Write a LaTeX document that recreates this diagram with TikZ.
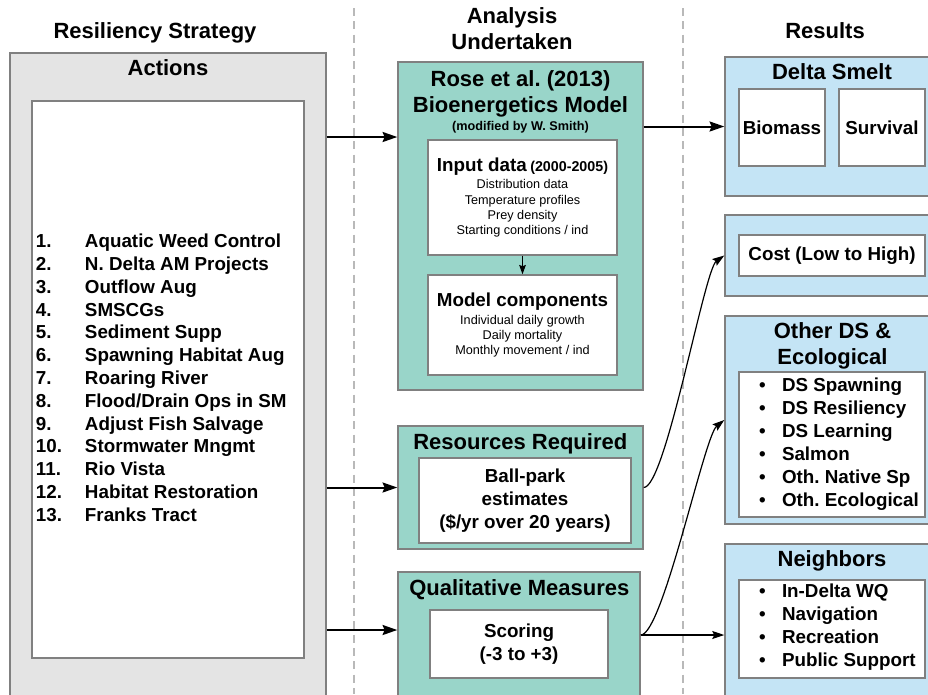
\documentclass[tikz,border=0pt]{standalone}
\usepackage{fontspec}
\setmainfont{Liberation Sans}
\frenchspacing
\usetikzlibrary{fit,arrows.meta}

\definecolor{actgray}{RGB}{228,228,228}
\definecolor{anteal}{RGB}{153,213,201}
\definecolor{resblue}{RGB}{196,228,245}
\definecolor{sepgray}{RGB}{185,185,185}

\tikzset{
  box/.style={draw=black!50,line width=1.1pt,inner sep=0pt},
  hdr/.style={font=\fontsize{16.5}{19.5}\selectfont\bfseries,align=center},
  body/.style={font=\fontsize{14.1}{17.25}\selectfont\bfseries,align=center,inner sep=0pt},
  note/.style={font=\fontsize{9.5}{11.4}\selectfont,align=center,inner sep=0pt},
  listing/.style={anchor=west,inner sep=0pt,font=\fontsize{14.1}{17.1}\selectfont\bfseries},
  sep/.style={sepgray,line width=1.1pt,dash pattern=on 6pt off 4pt},
  curvearrow/.style={line width=0.9pt,>={Stealth[length=9pt,width=6pt,inset=1.5pt]}}
}

\begin{document}
\begin{tikzpicture}[x=0.75pt,y=-0.75pt,line width=1.5pt,
    >={Stealth[length=11pt,width=7.5pt,inset=1.5pt]}]
\useasboundingbox (0,0) rectangle (928,694);
\clip (0,0) rectangle (928,694);

\draw[sep] (354,8) -- (354,694);
\draw[sep] (683,8) -- (683,694);

\node[hdr,anchor=base] (strat) at (155,38) {Resiliency Strategy};
\node[hdr] (analysis) at (512,28.5) {Analysis\\Undertaken};
\node[hdr,anchor=base] (results) at (825,38) {Results};

\node[box,fill=actgray,fit={(10,53)(326,710)}] (act) {};
\node[hdr,anchor=base] (acttitle) at (168,75.5) {Actions};
\node[box,fill=white,fit={(32,101)(304,658)}] (actin) {};
\node[listing] (actlist) at (35,380) {\begin{tabular}{@{}p{36.75pt}@{}l@{}}
1.  & Aquatic Weed Control\\
2.  & N. Delta AM Projects\\
3.  & Outflow Aug\\
4.  & SMSCGs\\
5.  & Sediment Supp\\
6.  & Spawning Habitat Aug\\
7.  & Roaring River\\
8.  & Flood/Drain Ops in SM\\
9.  & Adjust Fish Salvage\\
10. & Stormwater Mngmt\\
11. & Rio Vista\\
12. & Habitat Restoration\\
13. & Franks Tract
\end{tabular}};

\node[box,fill=anteal,fit={(398,62)(643,390)}] (rose) {};
\node[hdr] (rosetitle) at (520.5,94) {Rose et al. (2013)\\Bioenergetics Model};
\node[font=\fontsize{9.5}{11}\selectfont\bfseries] (rosenote) at (520.5,127.4) {(modified by W. Smith)};
\node[box,fill=white,fit={(428,140)(617,255)}] (indata) {};
\node[note] (indatatxt) at (indata)
  {{\fontsize{14.1}{17}\selectfont\bfseries Input data} {\fontsize{10.7}{12}\selectfont\bfseries(2000-2005)}\\[1.5pt]
   Distribution data\\Temperature profiles\\Prey density\\Starting conditions / ind};
\node[box,fill=white,fit={(428,275)(617,375)}] (model) {};
\node[note] (modeltxt) at (model)
  {{\fontsize{14.1}{17}\selectfont\bfseries Model components}\\[1.7pt]
   Individual daily growth\\Daily mortality\\Monthly movement / ind};

\node[box,fill=anteal,fit={(398,426)(643,549)}] (res) {};
\node[hdr,anchor=base] (restitle) at (520.3,449) {Resources Required};
\node[box,fill=white,fit={(419,458)(631,543)}] (ballpark) {};
\node[body] (ballparktxt) at (ballpark) {Ball-park\\estimates\\(\$/yr over 20 years)};

\node[box,fill=anteal,fit={(398,572)(640,698)}] (qual) {};
\node[hdr,anchor=base] (qualtitle) at (519.3,595.7) {Qualitative Measures};
\node[box,fill=white,fit={(430,610)(608,678)}] (scoring) {};
\node[body] (scoringtxt) at (scoring) {Scoring\\(-3 to +3)};

\node[box,fill=resblue,fit={(725,57)(940,196)}] (smelt) {};
\node[hdr,anchor=base] (smelttitle) at (832,79) {Delta Smelt};
\node[box,fill=white,fit={(739,89)(825,166)}] (biomass) {};
\node[body] (biomasstxt) at (biomass) {Biomass};
\node[box,fill=white,fit={(839,89)(925,166)}] (survival) {};
\node[body] (survivaltxt) at (survival) {Survival};

\node[box,fill=resblue,fit={(725,215)(940,296)}] (costbox) {};
\node[box,fill=white,fit={(739,235)(925,276)}] (cost) {};
\node[body] (costtxt) at (cost) {Cost (Low to High)};

\node[box,fill=resblue,fit={(725,316)(940,524)}] (other) {};
\node[hdr] (othertitle) at (832.5,346.3) {Other DS \&\\Ecological};
\node[box,fill=white,fit={(739,372)(925,517)}] (otherin) {};
\node[listing,font=\fontsize{14.1}{17.25}\selectfont\bfseries] (otherlist) at (758,444.6) {\begin{tabular}{@{}p{17.25pt}@{}l@{}}
\textbullet & DS Spawning\\
\textbullet & DS Resiliency\\
\textbullet & DS Learning\\
\textbullet & Salmon\\
\textbullet & Oth. Native Sp\\
\textbullet & Oth. Ecological
\end{tabular}};

\node[box,fill=resblue,fit={(725,544)(940,710)}] (neigh) {};
\node[hdr,anchor=base] (neightitle) at (832,566.4) {Neighbors};
\node[box,fill=white,fit={(739,580)(925,678)}] (neighin) {};
\node[listing,font=\fontsize{14.1}{17.25}\selectfont\bfseries] (neighlist) at (758,627.6) {\begin{tabular}{@{}p{17.25pt}@{}l@{}}
\textbullet & In-Delta WQ\\
\textbullet & Navigation\\
\textbullet & Recreation\\
\textbullet & Public Support
\end{tabular}};

\draw[->,line width=0.8pt,>={Stealth[length=7pt,width=5pt,inset=1pt]}] (indata) -- (model);
\draw[->] (act.east |- 0,137) -- (rose.west |- 0,137);
\draw[->] (act.east |- res.west) -- (res.west);
\draw[->] (act.east |- 0,630) -- (qual.west |- 0,630);
\draw[->] (rose.east |- smelt.west) -- (smelt.west);
\draw[->,curvearrow] (res.east) .. controls +(22,0) and +(-20,14) .. (costbox.west);
\draw[->,curvearrow] (qual.east) .. controls +(22,0) and +(-20,16) .. (other.west);
\draw[->,curvearrow] (qual.east) -- (neigh.west |- qual.east);
\end{tikzpicture}
\end{document}
